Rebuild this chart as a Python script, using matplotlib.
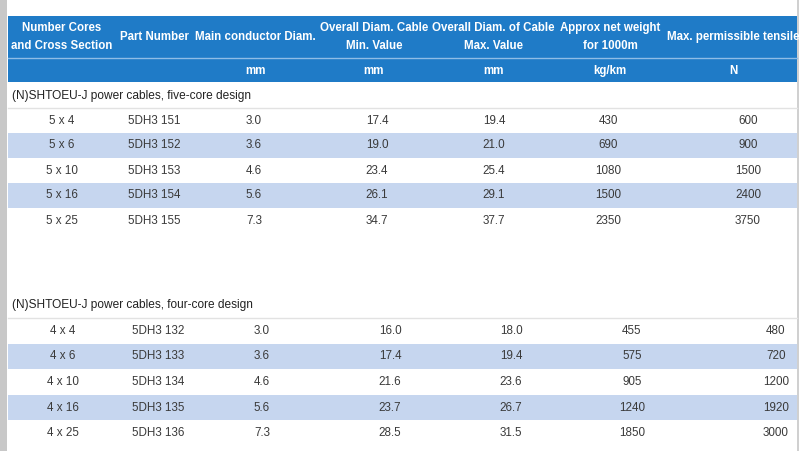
import matplotlib.pyplot as plt
from matplotlib.patches import Rectangle

plt.rcParams['font.family'] = ['Liberation Sans', 'DejaVu Sans']

# table content
header_top = ["Number Cores\nand Cross Section", "Part Number", "Main conductor Diam.",
              "Overall Diam. Cable\nMin. Value", "Overall Diam. of Cable\nMax. Value",
              "Approx net weight\nfor 1000m", "Max. permissible tensile"]
header_units = ["", "", "mm", "mm", "mm", "kg/km", "N"]

title_five = "(N)SHTOEU-J power cables, five-core design"
cores_five = ["5 x 4", "5 x 6", "5 x 10", "5 x 16", "5 x 25"]
part_five = ["5DH3 151", "5DH3 152", "5DH3 153", "5DH3 154", "5DH3 155"]
cond_five = ["3.0", "3.6", "4.6", "5.6", "7.3"]
dmin_five = ["17.4", "19.0", "23.4", "26.1", "34.7"]
dmax_five = ["19.4", "21.0", "25.4", "29.1", "37.7"]
weight_five = ["430", "690", "1080", "1500", "2350"]
tensile_five = ["600", "900", "1500", "2400", "3750"]

title_four = "(N)SHTOEU-J power cables, four-core design"
cores_four = ["4 x 4", "4 x 6", "4 x 10", "4 x 16", "4 x 25"]
part_four = ["5DH3 132", "5DH3 133", "5DH3 134", "5DH3 135", "5DH3 136"]
cond_four = ["3.0", "3.6", "4.6", "5.6", "7.3"]
dmin_four = ["16.0", "17.4", "21.6", "23.7", "28.5"]
dmax_four = ["18.0", "19.4", "23.6", "26.7", "31.5"]
weight_four = ["455", "575", "905", "1240", "1850"]
tensile_four = ["480", "720", "1200", "1920", "3000"]

# layout (pixels)
W, H = 800, 451
left, right = 8, 797
blue = '#1f7bc7'
stripe = '#c6d6ef'
text_c = '#3a3a3a'

head_x = [62, 154, 255, 374, 493, 610, 733]
five_x = [62, 154, 254, 377, 494, 608, 748]
four_x = [63, 158, 262, 390, 511, 632, 776]

fig = plt.figure(figsize=(8, 4.51), dpi=100)
ax = fig.add_axes([0, 0, 1, 1])
ax.set_xlim(0, W)
ax.set_ylim(H, 0)
ax.axis('off')

# left gray strip and right border
ax.add_patch(Rectangle((0, 0), 7, H, color='#c8c8c8', lw=0))
ax.add_patch(Rectangle((797, 0), 2, H, color='#d0d0d0', lw=0))

# header
ax.add_patch(Rectangle((left, 16), right - left, 66, color=blue, lw=0))
ax.plot([left, right], [58, 58], color='#8fbde6', lw=1)
for x, t in zip(head_x, header_top):
    ax.text(x, 37, t, ha='center', va='center', color='white', fontsize=8.3,
            fontweight='bold', linespacing=1.7, clip_on=True)
for x, t in zip(head_x, header_units):
    ax.text(x, 71, t, ha='center', va='center', color='white', fontsize=8.3,
            fontweight='bold')


def draw_block(title, title_y, line_y, row_h, xs, cols):
    ax.text(12, title_y, title, ha='left', va='center', color='#222222', fontsize=8.6)
    ax.plot([left, right], [line_y, line_y], color='#e2e2e2', lw=1)
    for i in range(len(cols[0])):
        y0 = line_y + i * row_h
        if i % 2 == 1:
            ax.add_patch(Rectangle((left, y0), right - left, row_h, color=stripe, lw=0))
        for x, col in zip(xs, cols):
            ax.text(x, y0 + row_h / 2, col[i], ha='center', va='center',
                    color=text_c, fontsize=8.4)


draw_block(title_five, 96, 108, 25,
           five_x, [cores_five, part_five, cond_five, dmin_five, dmax_five, weight_five, tensile_five])
draw_block(title_four, 305, 318, 25.6,
           four_x, [cores_four, part_four, cond_four, dmin_four, dmax_four, weight_four, tensile_four])

fig.savefig('out.png', dpi=100)
